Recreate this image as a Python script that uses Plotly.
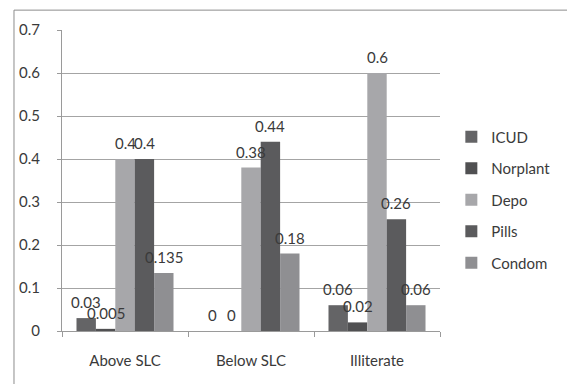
import plotly.graph_objects as go

# Contraceptive method share by education level
categories = ["Above SLC", "Below SLC", "Illiterate"]
series_names = ["ICUD", "Norplant", "Depo", "Pills", "Condom"]
icud = [0.03, 0, 0.06]
norplant = [0.005, 0, 0.02]
depo = [0.4, 0.38, 0.6]
pills = [0.4, 0.44, 0.26]
condom = [0.135, 0.18, 0.06]
y_ticks = [0, 0.1, 0.2, 0.3, 0.4, 0.5, 0.6, 0.7]

series_values = [icud, norplant, depo, pills, condom]
colors = ["#646466", "#505052", "#a7a7aa", "#5b5b5d", "#8f8f92"]

FONT = "Lato, 'Open Sans', sans-serif"
TEXT_COLOR = "#3a3a3a"
FONT_SIZE = 15
BARGAP = 0.23

fig = go.Figure()
for k, (name, vals) in enumerate(zip(series_names, series_values)):
    fig.add_trace(go.Bar(
        name=name, x=categories, y=vals,
        marker=dict(color=colors[k], line=dict(width=0)),
        legendgroup=name,
    ))

# value labels centred above each bar in the grouped layout
n = len(series_names)
bar_w = (1 - BARGAP) / n
annotations = []
for k, vals in enumerate(series_values):
    for i, v in enumerate(vals):
        annotations.append(dict(
            x=i + (k - (n - 1) / 2) * bar_w, y=v, xref="x", yref="y",
            text=f"{v:g}", showarrow=False, yanchor="bottom", yshift=5,
            font=dict(family=FONT, size=FONT_SIZE, color=TEXT_COLOR),
        ))

fig.update_layout(
    width=567, height=384,
    margin=dict(l=62, r=104, t=30, b=53),
    paper_bgcolor="white", plot_bgcolor="white",
    barmode="group", bargap=BARGAP, bargroupgap=0,
    font=dict(family=FONT, size=FONT_SIZE, color=TEXT_COLOR),
    showlegend=True,
    legend=dict(x=1.03, xanchor="left", y=0.435, yanchor="middle",
                font=dict(family=FONT, size=FONT_SIZE, color=TEXT_COLOR),
                tracegroupgap=9, bgcolor="rgba(0,0,0,0)"),
    annotations=annotations,
    shapes=[dict(type="rect", xref="paper", yref="paper",
                 x0=-0.127, x1=2, y0=-2, y1=1.066,
                 line=dict(color="#8c8c8c", width=1), layer="below")],
)
fig.update_xaxes(
    type="category", showgrid=False, showline=True, linecolor="#9a9a9a",
    ticks="outside", tickson="boundaries", ticklen=5, tickcolor="#9a9a9a",
    ticklabelstandoff=16, tickfont=dict(size=FONT_SIZE),
)
fig.update_yaxes(
    range=[0, 0.7], tickvals=y_ticks, ticktext=[f"{t:g}" for t in y_ticks],
    showgrid=True, gridcolor="#a4a4a4", gridwidth=1,
    showline=True, linecolor="#9a9a9a", ticks="outside", ticklen=4,
    tickcolor="#9a9a9a", ticklabelstandoff=14, zeroline=False,
    tickfont=dict(size=FONT_SIZE),
)

fig.write_html("out.html")
